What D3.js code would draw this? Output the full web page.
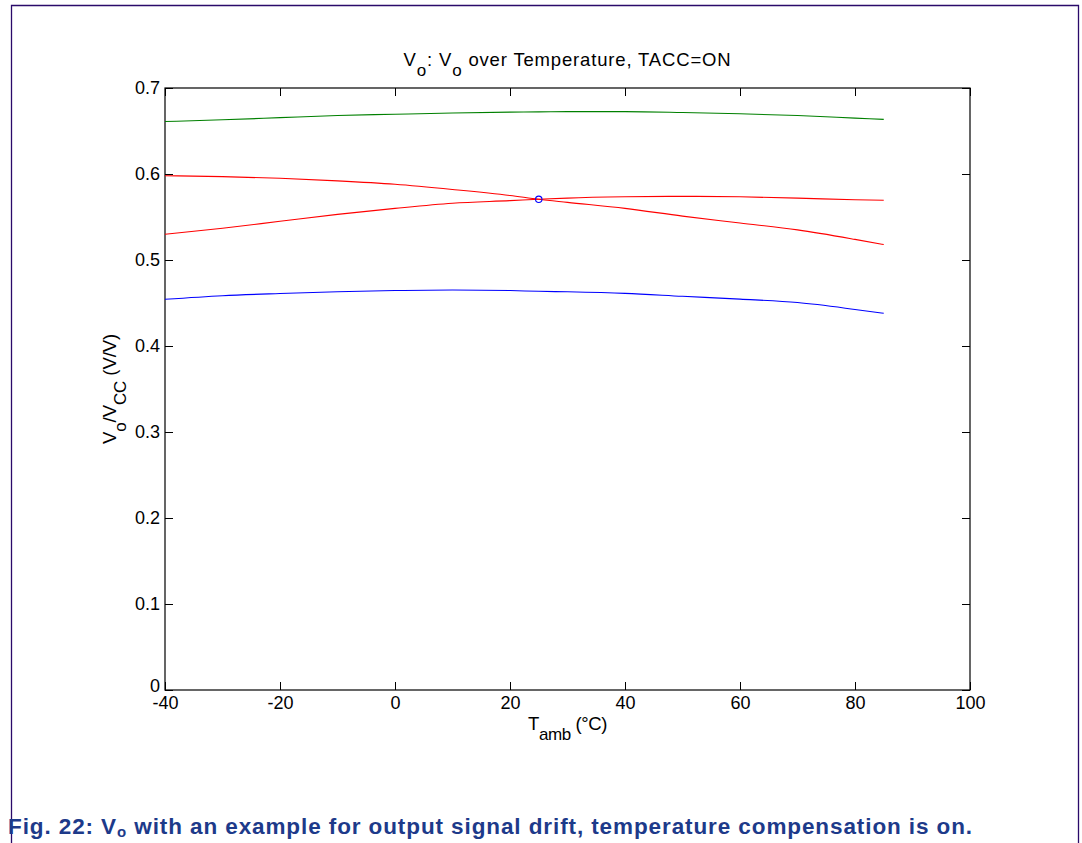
<!DOCTYPE html>
<html>
<head>
<meta charset="utf-8">
<script src="https://cdn.jsdelivr.net/npm/d3@7"></script>
<style>
  body { margin: 0; background: #fff; }
  svg { display: block; font-family: "Liberation Sans", Arial, sans-serif; }
</style>
</head>
<body>
<script>
// temperature points (deg C)
var temps = [-40, -30, -20, -10, 0, 10, 20, 25, 30, 40, 50, 60, 70, 80, 85];

// Vo/Vcc per curve
var greenVals = [0.661, 0.663, 0.6655, 0.668, 0.6695, 0.671, 0.672, 0.6722, 0.6725, 0.6725, 0.6715, 0.670, 0.668, 0.665, 0.6635];
var redDown   = [0.598, 0.597, 0.595, 0.592, 0.588, 0.582, 0.575, 0.5706, 0.567, 0.560, 0.551, 0.543, 0.535, 0.524, 0.518];
var redUp     = [0.530, 0.537, 0.545, 0.553, 0.560, 0.566, 0.569, 0.5706, 0.572, 0.5735, 0.574, 0.5735, 0.572, 0.570, 0.5694];
var blueVals  = [0.4543, 0.4585, 0.461, 0.463, 0.4645, 0.4652, 0.4645, 0.4636, 0.463, 0.4612, 0.4578, 0.4545, 0.4505, 0.4425, 0.438];

// reference point
var refPoint = [25, 0.5706];

var xTicks = [-40, -20, 0, 20, 40, 60, 80, 100];
var yTicks = [0, 0.1, 0.2, 0.3, 0.4, 0.5, 0.6, 0.7];

var width = 1082, height = 843;
var mLeft = 165, mRight = 970, mTop = 88, mBottom = 690;
var tickLen = 8;

var svg = d3.select("body").append("svg")
    .attr("width", width)
    .attr("height", height);

// page frame
svg.append("path")
    .attr("d", "M11.5,845 V5.5 H1078.5 V845")
    .attr("fill", "none")
    .attr("stroke", "#2a0a6a")
    .attr("stroke-width", 1.3);

var x = d3.scaleLinear().domain([-40, 100]).range([mLeft, mRight]);
var y = d3.scaleLinear().domain([0, 0.7]).range([mBottom, mTop]);

// axes box with inward ticks on all four sides
var xBottom = d3.axisBottom(x).tickValues(xTicks).tickSizeInner(-tickLen).tickSizeOuter(0).tickPadding(6).tickFormat(function(d){ return String(d); });
var xTop = d3.axisTop(x).tickValues(xTicks).tickSizeInner(-tickLen).tickSizeOuter(0).tickFormat("");
var yLeft = d3.axisLeft(y).tickValues(yTicks).tickSizeInner(-tickLen).tickSizeOuter(0).tickPadding(5).tickFormat(function(d){ return d === 0 ? "0" : d3.format(".1f")(d); });
var yRight = d3.axisRight(y).tickValues(yTicks).tickSizeInner(-tickLen).tickSizeOuter(0).tickFormat("");

function styleAxis(g){
    g.select(".domain").remove();
    g.selectAll(".tick line").attr("stroke", "#000");
    g.selectAll("text").attr("fill", "#000").attr("font-size", 18)
        .attr("font-family", "Liberation Sans, Arial, sans-serif");
}

svg.append("g").attr("transform", "translate(0," + mBottom + ")").call(xBottom).call(styleAxis);
svg.append("g").attr("transform", "translate(0," + mTop + ")").call(xTop).call(styleAxis);
var yAxisG = svg.append("g").attr("transform", "translate(" + mLeft + ",0)").call(yLeft).call(styleAxis);
svg.append("g").attr("transform", "translate(" + mRight + ",0)").call(yRight).call(styleAxis);

// the zero label sits a little higher, like the original
yAxisG.selectAll(".tick").filter(function(d){ return d === 0; }).select("text").attr("dy", "0.1em");

svg.append("rect")
    .attr("x", mLeft).attr("y", mTop)
    .attr("width", mRight - mLeft).attr("height", mBottom - mTop)
    .attr("fill", "none").attr("stroke", "#000").attr("stroke-width", 1.2);

// curves
var line = d3.line()
    .x(function(d, i){ return x(temps[i]); })
    .y(function(d){ return y(d); })
    .curve(d3.curveMonotoneX);

var series = [
    {vals: greenVals, color: "#008000"},
    {vals: redDown, color: "#ff0000"},
    {vals: redUp, color: "#ff0000"},
    {vals: blueVals, color: "#0000ff"}
];

svg.selectAll(".curve")
    .data(series)
    .enter()
    .append("path")
    .attr("class", "curve")
    .attr("d", function(d){ return line(d.vals); })
    .attr("fill", "none")
    .attr("stroke", function(d){ return d.color; })
    .attr("stroke-width", 1.1);

svg.append("circle")
    .attr("cx", x(refPoint[0]))
    .attr("cy", y(refPoint[1]))
    .attr("r", 3.2)
    .attr("fill", "none")
    .attr("stroke", "#0000ff")
    .attr("stroke-width", 1.1);

// stretch a text's letter spacing so it fills a given width
function fitWidth(t, target){
    var n = t.text().length;
    var w = t.node().getComputedTextLength();
    t.attr("letter-spacing", ((target - w) / n) + "px");
}

// title
var title = svg.append("text")
    .attr("x", (mLeft + mRight) / 2)
    .attr("y", 66)
    .attr("text-anchor", "middle")
    .attr("font-size", 18.5);
title.append("tspan").text("V");
title.append("tspan").attr("dy", 10).attr("font-size", 17).text("o");
title.append("tspan").attr("dy", -10).text(": V");
title.append("tspan").attr("dy", 10).attr("font-size", 17).text("o");
title.append("tspan").attr("dy", -10).text(" over Temperature, TACC=ON");
fitWidth(title, 328);

// x label
var xl = svg.append("text")
    .attr("x", (mLeft + mRight) / 2)
    .attr("y", 730)
    .attr("text-anchor", "middle")
    .attr("font-size", 18.5);
xl.append("tspan").text("T");
xl.append("tspan").attr("dy", 10).attr("font-size", 17).text("amb");
xl.append("tspan").attr("dy", -10).text(" (°C)");
fitWidth(xl, 79);

// y label
var yl = svg.append("text")
    .attr("transform", "translate(116," + (mTop + mBottom) / 2 + ") rotate(-90)")
    .attr("text-anchor", "middle")
    .attr("font-size", 18.5);
yl.append("tspan").text("V");
yl.append("tspan").attr("dy", 10).attr("font-size", 17).text("o");
yl.append("tspan").attr("dy", -10).text("/V");
yl.append("tspan").attr("dy", 10).attr("font-size", 17).text("CC");
yl.append("tspan").attr("dy", -10).text(" (V/V)");
fitWidth(yl, 110);

// caption
var cap = svg.append("text")
    .attr("x", 8)
    .attr("y", 834)
    .attr("font-size", 22.5)
    .attr("font-weight", "bold")
    .attr("fill", "#1d3a8a");
cap.append("tspan").text("Fig. 22: V");
cap.append("tspan").attr("dy", 3).attr("font-size", 15).text("o");
cap.append("tspan").attr("dy", -3).text(" with an example for output signal drift, temperature compensation is on.");
fitWidth(cap, 965);
</script>
</body>
</html>
